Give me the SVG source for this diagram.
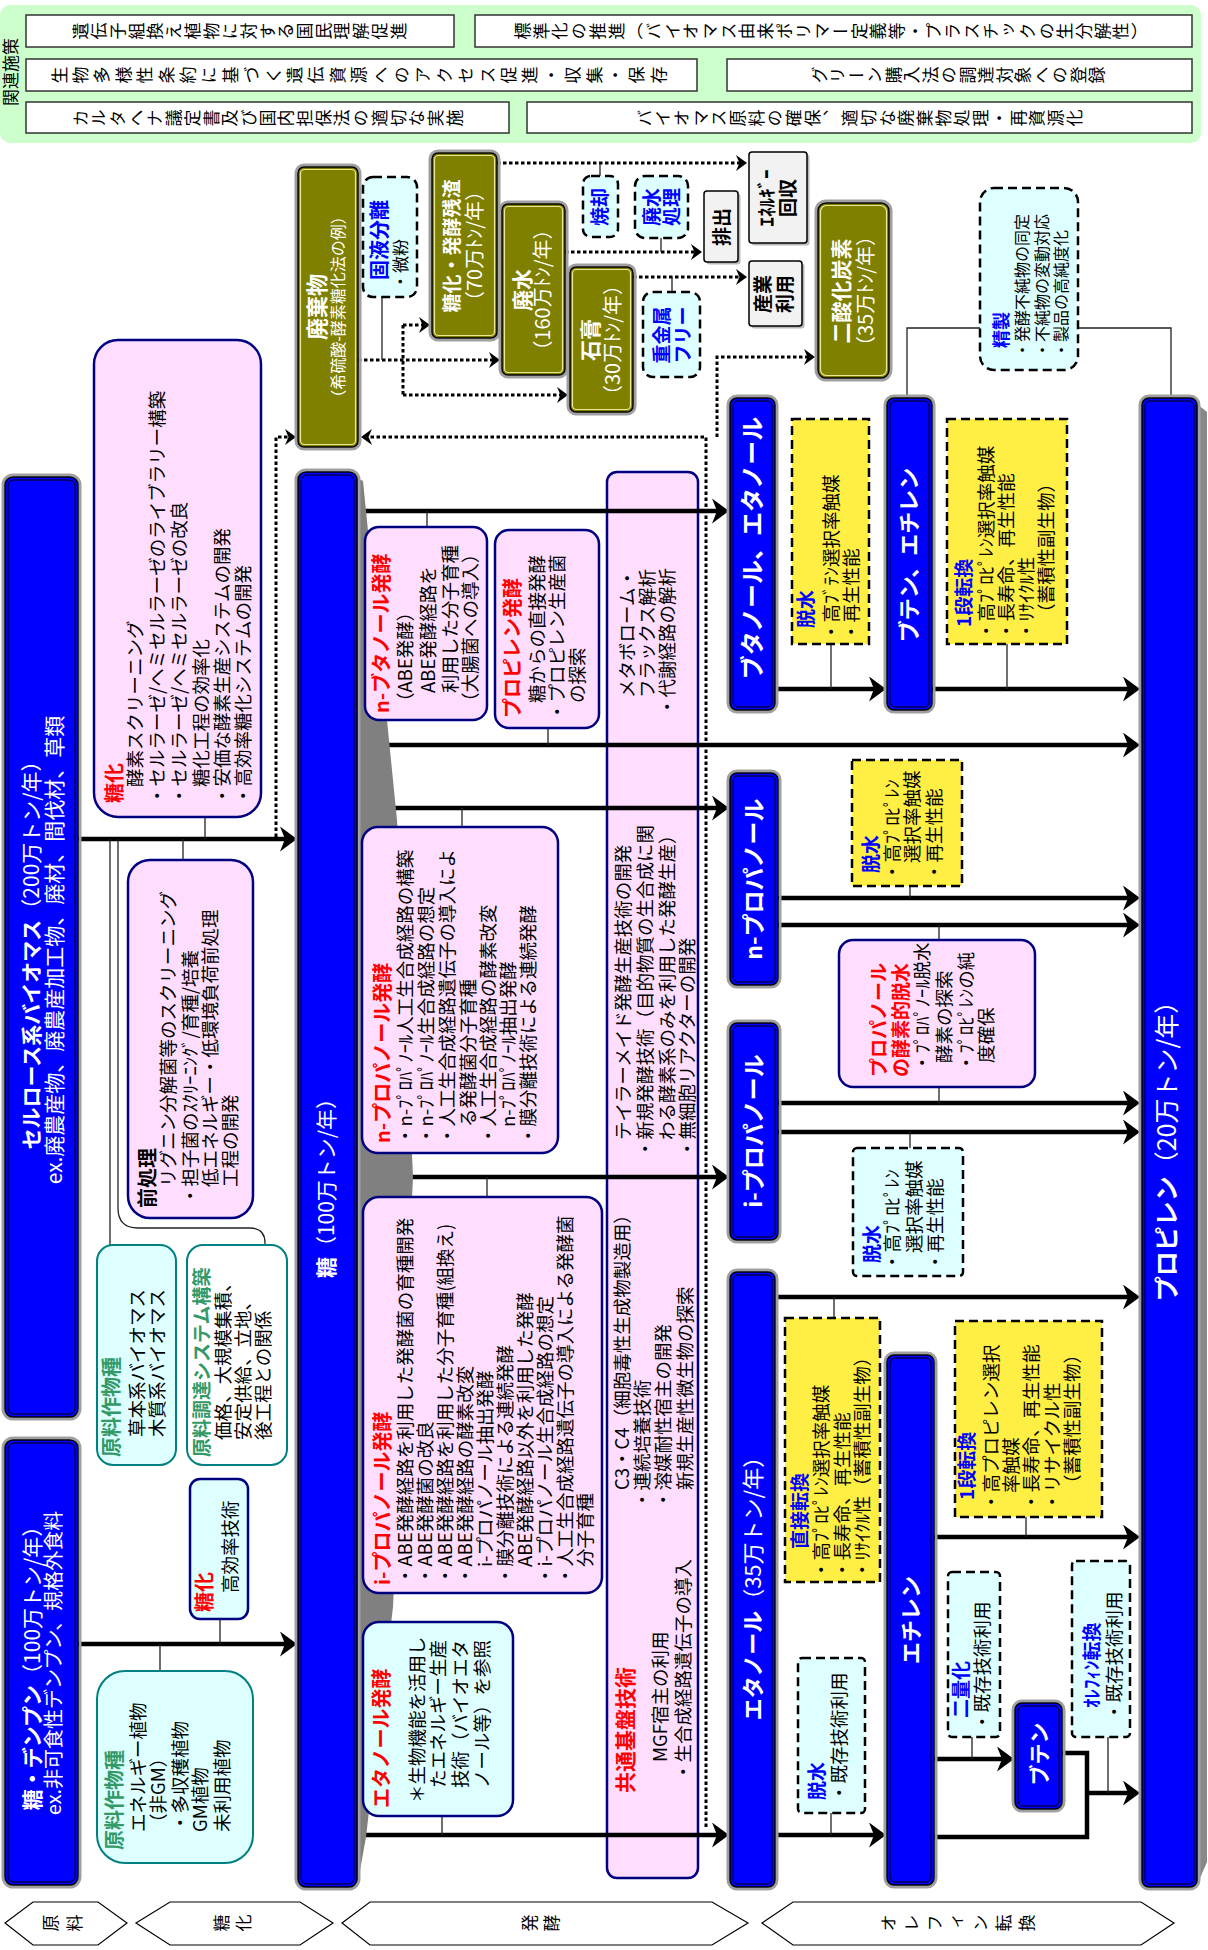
<svg xmlns="http://www.w3.org/2000/svg" width="1208" height="1950" viewBox="0 0 1208 1950">
<style>
text{font-family:"Noto Sans CJK JP","Noto Sans CJK SC",sans-serif;font-size:18.5px;fill:#000}
.b{font-weight:bold}
.w{fill:#fff}
.rd{fill:#f00;font-weight:bold;font-size:20px}
.bu{fill:#00f;font-weight:bold;font-size:19px}
.gn{fill:#339966;font-weight:bold;font-size:20px}
.m{text-anchor:middle}
.v{writing-mode:vertical-rl;text-anchor:middle;font-size:17px}
.halo{fill:none;stroke:#a0a0a0;stroke-width:3}
.blue{fill:#0000ff;stroke:#000;stroke-width:1.5}
.olive{fill:#808000;stroke:#000;stroke-width:1.5}
.inb{fill:none;stroke:#000;stroke-width:1}
.ino{fill:none;stroke:#e8e890;stroke-width:1.2}
.pk{fill:#ffddff;stroke:#000080;stroke-width:2.5}
.ct{fill:#ddffff;stroke:#008080;stroke-width:2}
.wt{fill:#fff;stroke:#008080;stroke-width:2}
.cn{fill:#ddffff;stroke:#000080;stroke-width:2.5}
.cyd{fill:#ddffff;stroke:#000;stroke-width:2.5;stroke-dasharray:9 5}
.yld{fill:#ffee44;stroke:#000;stroke-width:2.5;stroke-dasharray:9 5}
.gy{fill:#f2f2f2;stroke:#000;stroke-width:1.5}
.sh{fill:#b8b8b8}
.chev{fill:#fff;stroke:#000;stroke-width:1.2}
.row{fill:#fff;stroke:#333;stroke-width:1.5}
.thick{fill:none;stroke:#000;stroke-width:4.5}
.dot{fill:none;stroke:#000;stroke-width:3;stroke-dasharray:3.5 2.5}
.thin{fill:none;stroke:#222;stroke-width:1.3}
</style>
<defs>
<marker id="ah" viewBox="0 0 17 25" refX="9" refY="12.5" markerWidth="17" markerHeight="25" markerUnits="userSpaceOnUse" orient="auto"><path d="M0,0 L17,12.5 L0,25 L5,12.5 Z" fill="#000"/></marker>
<marker id="ad" viewBox="0 0 11 16" refX="6" refY="8" markerWidth="11" markerHeight="16" markerUnits="userSpaceOnUse" orient="auto"><path d="M0,0 L11,8 L0,16 L3.5,8 Z" fill="#000"/></marker>
</defs>

<g id="related-policies">
<rect x="0" y="5" width="1201" height="138" rx="10" fill="#ccffcc"/>
<rect class="row" x="26" y="15" width="428" height="32"/>
<rect class="row" x="475" y="15" width="717" height="32"/>
<rect class="row" x="26" y="59" width="671" height="32"/>
<rect class="row" x="727" y="59" width="465" height="32"/>
<rect class="row" x="26" y="102" width="483" height="31"/>
<rect class="row" x="527" y="102" width="665" height="31"/>
<g transform="translate(0 1950) rotate(-90)">
<text class="m" x="1878" y="17" style="font-size:17px">関連施策</text>
<text class="v" x="1919" y="240" letter-spacing="1.7">遺伝子組換え植物に対する国民理解促進</text>
<text class="v" x="1919" y="832" letter-spacing="1.7">標準化の推進（バイオマス由来ポリマー定義等・プラスチックの生分解性）</text>
<text class="v" x="1875" y="361" letter-spacing="4.4">生物多様性条約に基づく遺伝資源へのアクセス促進・収集・保存</text>
<text class="v" x="1875" y="959" letter-spacing="1.5">グリーン購入法の調達対象への登録</text>
<text class="v" x="1832" y="268" letter-spacing="1.7">カルタヘナ議定書及び国内担保法の適切な実施</text>
<text class="v" x="1832" y="860" letter-spacing="1.7">バイオマス原料の確保、適切な廃棄物処理・再資源化</text>
</g>
</g>

<g id="stage-feedstock">
<polygon class="chev" points="5,1923 33,1902 98,1902 127,1923 98,1945 33,1945"/>
<g transform="translate(0 1950) rotate(-90)"><text class="v" x="27" y="66" letter-spacing="7">原料</text></g>
</g>
<g id="stage-saccharification">
<polygon class="chev" points="136,1923 170,1902 300,1902 333,1923 300,1945 170,1945"/>
<g transform="translate(0 1950) rotate(-90)"><text class="v" x="27" y="235" letter-spacing="5">糖化</text></g>
</g>
<g id="stage-fermentation">
<polygon class="chev" points="342,1923 370,1902 712,1902 748,1923 712,1945 370,1945"/>
<g transform="translate(0 1950) rotate(-90)"><text class="v" x="27" y="543" letter-spacing="5">発酵</text></g>
</g>
<g id="stage-olefin">
<polygon class="chev" points="762,1923 793,1902 1141,1902 1174,1923 1141,1945 793,1945"/>
<g transform="translate(0 1950) rotate(-90)"><text class="v" x="27" y="961" letter-spacing="6">オレフィン転換</text></g>
</g>

<g id="common-tech">
<rect class="pk" x="607" y="472" width="91" height="1406" rx="10"/>
<g transform="translate(0 1950) rotate(-90)">
<text class="rd" x="157" y="633" style="font-size:21px">共通基盤技術</text>
<text x="188" y="667">MGF宿主の利用</text>
<text x="169" y="690">・生合成経路遺伝子の導入</text>
<text x="460" y="629">C3・C4（細胞毒性生成物製造用）</text>
<text x="441" y="649">・連続培養技術</text>
<text x="441" y="670">・溶媒耐性宿主の開発</text>
<text x="460" y="692">新規生産性微生物の探索</text>
<text x="810" y="630">テイラーメイド発酵生産技術の開発</text>
<text x="792" y="652">・新規発酵技術（目的物質の生合成に関</text>
<text x="810" y="674">わる酵素系のみを利用した発酵生産）</text>
<text x="792" y="694">・無細胞リアクターの開発</text>
<text x="1252" y="634">メタボローム・</text>
<text x="1252" y="654">フラックス解析</text>
<text x="1234" y="674">・代謝経路の解析</text>
</g>
</g>

<g id="connectors">
<path class="thick" d="M78,839H289" marker-end="url(#ah)"/>
<path class="thick" d="M78,1644H289" marker-end="url(#ah)"/>
<path class="thick" d="M357,511H721" marker-end="url(#ah)"/>
<path class="thick" d="M357,745H1132" marker-end="url(#ah)"/>
<path class="thick" d="M357,808H721" marker-end="url(#ah)"/>
<path class="thick" d="M357,1177H721" marker-end="url(#ah)"/>
<path class="thick" d="M357,1835H721" marker-end="url(#ah)"/>
<path class="thick" d="M776,689H878" marker-end="url(#ah)"/>
<path class="thick" d="M932,689H1132" marker-end="url(#ah)"/>
<path class="thick" d="M778,898H1132" marker-end="url(#ah)"/>
<path class="thick" d="M778,925H1132" marker-end="url(#ah)"/>
<path class="thick" d="M778,1103H1132" marker-end="url(#ah)"/>
<path class="thick" d="M778,1132H1132" marker-end="url(#ah)"/>
<path class="thick" d="M776,1297H1132" marker-end="url(#ah)"/>
<path class="thick" d="M776,1835H878" marker-end="url(#ah)"/>
<path class="thick" d="M934,1537H1132" marker-end="url(#ah)"/>
<path class="thick" d="M934,1759H1006" marker-end="url(#ah)"/>
<path class="thick" d="M1062,1753H1087V1837H934"/>
<path class="thick" d="M1087,1793H1132" marker-end="url(#ah)"/>

<path class="dot" d="M276,837V437H291" marker-end="url(#ad)"/>
<path class="dot" d="M358,360H495" marker-end="url(#ad)"/>
<path class="dot" d="M403,325V395"/>
<path class="dot" d="M403,325H425" marker-end="url(#ad)"/>
<path class="dot" d="M403,395H563" marker-end="url(#ad)"/>
<path class="dot" d="M497,163H742" marker-end="url(#ad)"/>
<path class="dot" d="M565,252H697" marker-end="url(#ad)"/>
<path class="dot" d="M633,277H742" marker-end="url(#ad)"/>
<path class="dot" d="M706,1827V437H366" marker-end="url(#ad)"/>
<path class="dot" d="M717,437V357H810" marker-end="url(#ad)"/>

<path class="thin" d="M205,817V839M183,860V839M110,839V1245M118,839V1208Q118,1228 138,1228H250Q265,1228 265,1243V1245M220,1619V1644M160,1671V1644M427,527V511M548,728V745M462,827V808M487,1197V1177M442,1816V1835M831,644V689M1007,644V689M910,886V898M939,940V925M939,1087V1103M910,1148V1132M834,1318V1297M831,1813V1835M1026,1517V1537M972,1737V1759M1108,1737V1793M980,328H907V398M1078,328H1171V398M382,297V360M600,176V163M661,238V252M672,292V277"/>
</g>

<g id="cellulose">
<rect class="halo" x="3" y="475" width="77" height="944" rx="10"/>
<rect class="blue" x="5" y="477" width="73" height="940" rx="8"/>
<rect class="inb" x="8" y="480" width="67" height="934" rx="6"/>
<g transform="translate(0 1950) rotate(-90)">
<text class="w m" x="1000" y="39" style="font-size:21px"><tspan class="b">セルロース系バイオマス</tspan>（200万トン/年）</text>
<text class="w m" x="1000" y="62" style="font-size:21px">ex.廃農産物、廃農産加工物、廃材、間伐材、草類</text>
</g>
</g>

<g id="starch">
<rect class="halo" x="3" y="1438" width="77" height="449" rx="10"/>
<rect class="blue" x="5" y="1440" width="73" height="445" rx="8"/>
<rect class="inb" x="8" y="1443" width="67" height="439" rx="6"/>
<g transform="translate(0 1950) rotate(-90)">
<text class="w m" x="287" y="40" style="font-size:21px"><tspan class="b">糖・デンプン</tspan>（100万トン/年）</text>
<text class="w m" x="287" y="61" style="font-size:20px">ex.非可食性デンプン、規格外食料</text>
</g>
</g>

<g id="sugar">
<polygon points="357,478 363,481 397,820 413,1177 393,1607 366,1837 357,1887" fill="#808080"/>
<rect class="halo" x="296" y="470" width="63" height="1419" rx="10"/>
<rect class="blue" x="298" y="472" width="59" height="1415" rx="8"/>
<rect class="inb" x="301" y="475" width="53" height="1409" rx="6"/>
<g transform="translate(0 1950) rotate(-90)">
<text class="w m" x="767" y="334" style="font-size:21px"><tspan class="b">糖</tspan>（100万トン/年）</text>
</g>
</g>

<g id="waste">
<rect class="halo" x="296" y="165" width="64" height="284" rx="8"/>
<rect class="olive" x="298" y="167" width="60" height="280" rx="6"/>
<rect class="ino" x="300.5" y="169.5" width="55" height="275" rx="4"/>
<g transform="translate(0 1950) rotate(-90)">
<text class="w m b" x="1643" y="325" style="font-size:22px">廃棄物</text>
<text class="w m" x="1643" y="344" style="font-size:16px">（希硫酸-酵素糖化法の例）</text>
</g>
</g>

<g id="residue">
<rect class="halo" x="430" y="151" width="69" height="189" rx="8"/>
<rect class="olive" x="432" y="153" width="65" height="185" rx="6"/>
<rect class="ino" x="434.5" y="155.5" width="60" height="180" rx="4"/>
<g transform="translate(0 1950) rotate(-90)">
<text class="w m b" x="1704" y="459" style="font-size:19px">糖化・発酵残渣</text>
<text class="w m" x="1704" y="482" style="font-size:20px">（70万ﾄﾝ/年）</text>
</g>
</g>

<g id="wastewater">
<rect class="halo" x="500" y="202" width="67" height="175" rx="8"/>
<rect class="olive" x="502" y="204" width="63" height="171" rx="6"/>
<rect class="ino" x="504.5" y="206.5" width="58" height="166" rx="4"/>
<g transform="translate(0 1950) rotate(-90)">
<text class="w m b" x="1660" y="530" style="font-size:21px">廃水</text>
<text class="w m" x="1660" y="550" style="font-size:20px">（160万ﾄﾝ/年）</text>
</g>
</g>

<g id="gypsum">
<rect class="halo" x="568" y="265" width="67" height="149" rx="8"/>
<rect class="olive" x="570" y="267" width="63" height="145" rx="6"/>
<rect class="ino" x="572.5" y="269.5" width="58" height="140" rx="4"/>
<g transform="translate(0 1950) rotate(-90)">
<text class="w m b" x="1610" y="598" style="font-size:21px">石膏</text>
<text class="w m" x="1610" y="620" style="font-size:20px">（30万ﾄﾝ/年）</text>
</g>
</g>

<g id="co2">
<rect class="halo" x="816" y="201" width="75" height="179" rx="10"/>
<rect class="olive" x="818" y="203" width="71" height="175" rx="8"/>
<rect class="ino" x="820.5" y="205.5" width="66" height="170" rx="6"/>
<g transform="translate(0 1950) rotate(-90)">
<text class="w m b" x="1659" y="849" style="font-size:21px">二酸化炭素</text>
<text class="w m" x="1659" y="873" style="font-size:20px">（35万ﾄﾝ/年）</text>
</g>
</g>

<g id="solid-liquid">
<rect class="cyd" x="363" y="177" width="54" height="120" rx="10"/>
<g transform="translate(0 1950) rotate(-90)">
<text class="bu" x="1670" y="387" style="font-size:20px">固液分離</text>
<text x="1660" y="407" style="font-size:17px">・微粉</text>
</g>
</g>

<g id="incineration">
<rect class="cyd" x="583" y="176" width="35" height="61" rx="8"/>
<g transform="translate(0 1950) rotate(-90)"><text class="bu m" x="1743" y="607">焼却</text></g>
</g>

<g id="wastewater-treatment">
<rect class="cyd" x="635" y="176" width="53" height="62" rx="10"/>
<g transform="translate(0 1950) rotate(-90)">
<text class="bu m" x="1743" y="659">廃水</text>
<text class="bu m" x="1743" y="679">処理</text>
</g>
</g>

<g id="heavy-metal-free">
<rect class="cyd" x="643" y="292" width="57" height="85" rx="10"/>
<g transform="translate(0 1950) rotate(-90)">
<text class="bu m" x="1615" y="669">重金属</text>
<text class="bu m" x="1615" y="690">フリー</text>
</g>
</g>

<g id="emission">
<rect class="sh" x="706.5" y="193.5" width="34" height="71" rx="3"/>
<rect class="gy" x="704" y="191" width="34" height="71" rx="3"/>
<g transform="translate(0 1950) rotate(-90)"><text class="b m" x="1723" y="729" style="font-size:19px">排出</text></g>
</g>

<g id="energy-recovery">
<rect class="sh" x="751.5" y="154.5" width="58" height="91" rx="3"/>
<rect class="gy" x="749" y="152" width="58" height="91" rx="3"/>
<g transform="translate(0 1950) rotate(-90)">
<text class="b m" x="1752" y="774" style="font-size:19px">ｴﾈﾙｷﾞｰ</text>
<text class="b m" x="1752" y="795" style="font-size:19px">回収</text>
</g>
</g>

<g id="industrial-use">
<rect class="sh" x="751.5" y="263.5" width="53" height="65" rx="3"/>
<rect class="gy" x="749" y="261" width="53" height="65" rx="3"/>
<g transform="translate(0 1950) rotate(-90)">
<text class="b m" x="1656" y="770" style="font-size:19px">産業</text>
<text class="b m" x="1656" y="792" style="font-size:19px">利用</text>
</g>
</g>

<g id="purification">
<rect class="cyd" x="980" y="188" width="98" height="182" rx="14"/>
<g transform="translate(0 1950) rotate(-90)">
<text class="bu" x="1602" y="1008" style="font-size:18px">精製</text>
<text x="1592" y="1028" style="font-size:16px">・発酵不純物の同定</text>
<text x="1592" y="1048" style="font-size:16px">・不純物の変動対応</text>
<text x="1592" y="1067" style="font-size:16px">・製品の高純度化</text>
</g>
</g>

<g id="saccharification">
<rect class="pk" x="94" y="340" width="167" height="477" rx="24"/>
<g transform="translate(0 1950) rotate(-90)">
<text class="rd" x="1147" y="122">糖化</text>
<text x="1163" y="142">酵素スクリーニング</text>
<text x="1145" y="164">・セルラーゼ/ヘミセルラーゼのライブラリー構築</text>
<text x="1145" y="186">・セルラーゼ/ヘミセルラーゼの改良</text>
<text x="1163" y="208">糖化工程の効率化</text>
<text x="1145" y="229">・安価な酵素生産システムの開発</text>
<text x="1145" y="250">・高効率糖化システムの開発</text>
</g>
</g>

<g id="pretreatment">
<rect class="pk" x="128" y="860" width="125" height="358" rx="22"/>
<g transform="translate(0 1950) rotate(-90)">
<text class="b" x="742" y="155" style="font-size:20px">前処理</text>
<text x="763" y="175">リグニン分解菌等のスクリーニング</text>
<text x="745" y="197">・担子菌のｽｸﾘｰﾆﾝｸﾞ/育種/培養</text>
<text x="763" y="217">低エネルギー・低環境負荷前処理</text>
<text x="763" y="237">工程の開発</text>
</g>
</g>

<g id="feedstock-crops-cellulose">
<rect class="ct" x="97" y="1245" width="79" height="220" rx="16"/>
<g transform="translate(0 1950) rotate(-90)">
<text class="gn" x="493" y="119">原料作物種</text>
<text x="513" y="144">草本系バイオマス</text>
<text x="513" y="164">木質系バイオマス</text>
</g>
</g>

<g id="procurement-system">
<rect class="wt" x="187" y="1245" width="100" height="220" rx="16"/>
<g transform="translate(0 1950) rotate(-90)">
<text class="gn" x="493" y="209" style="font-size:19px">原料調達システム構築</text>
<text x="510" y="230">価格、大規模集積、</text>
<text x="510" y="250">安定供給、立地、</text>
<text x="510" y="270">後工程との関係</text>
</g>
</g>

<g id="saccharification-starch">
<rect class="cn" x="190" y="1479" width="58" height="140" rx="10"/>
<g transform="translate(0 1950) rotate(-90)">
<text class="rd" x="338" y="212">糖化</text>
<text x="357" y="237">高効率技術</text>
</g>
</g>

<g id="feedstock-crops-starch">
<rect class="ct" x="97" y="1671" width="156" height="192" rx="28"/>
<g transform="translate(0 1950) rotate(-90)">
<text class="gn" x="100" y="122">原料作物種</text>
<text x="118" y="145">エネルギー植物</text>
<text x="118" y="165">（非GM）</text>
<text x="118" y="187">・多収穫植物</text>
<text x="118" y="207">GM植物</text>
<text x="118" y="229">未利用植物</text>
</g>
</g>

<g id="n-butanol-fermentation">
<rect class="pk" x="365" y="527" width="122" height="193" rx="14"/>
<g transform="translate(0 1950) rotate(-90)">
<text class="rd" x="1237" y="389">n-ブタノール発酵</text>
<text x="1239" y="412">（ABE発酵）</text>
<text x="1257" y="435">ABE発酵経路を</text>
<text x="1257" y="457">利用した分子育種</text>
<text x="1239" y="477">（大腸菌への導入）</text>
</g>
</g>

<g id="propylene-fermentation">
<rect class="pk" x="495" y="530" width="104" height="198" rx="14"/>
<g transform="translate(0 1950) rotate(-90)">
<text class="rd" x="1232" y="520">プロピレン発酵</text>
<text x="1247" y="544">糖からの直接発酵</text>
<text x="1229" y="564">・プロピレン生産菌</text>
<text x="1247" y="584">の探索</text>
</g>
</g>

<g id="n-propanol-fermentation">
<rect class="pk" x="362" y="827" width="196" height="326" rx="16"/>
<g transform="translate(0 1950) rotate(-90)">
<text class="rd" x="807" y="390">n-プロパノール発酵</text>
<text x="805" y="412">・n-ﾌﾟﾛﾊﾟﾉｰﾙ人工生合成経路の構築</text>
<text x="805" y="433">・n-ﾌﾟﾛﾊﾟﾉｰﾙ生合成経路の想定</text>
<text x="805" y="454">・人工生合成経路遺伝子の導入によ</text>
<text x="823" y="475">る発酵菌分子育種</text>
<text x="805" y="495">・人工生合成経路の酵素改変</text>
<text x="823" y="515">n-ﾌﾟﾛﾊﾟﾉｰﾙ抽出発酵</text>
<text x="805" y="535">・膜分離技術による連続発酵</text>
</g>
</g>

<g id="i-propanol-fermentation">
<rect class="pk" x="363" y="1197" width="239" height="396" rx="16"/>
<g transform="translate(0 1950) rotate(-90)">
<text class="rd" x="365" y="390">i-プロパノール発酵</text>
<text x="365" y="412">・ABE発酵経路を利用した発酵菌の育種開発</text>
<text x="365" y="432">・ABE発酵菌の改良</text>
<text x="365" y="452">・ABE発酵経路を利用した分子育種(組換え)</text>
<text x="365" y="472">・ABE発酵経路の酵素改変</text>
<text x="383" y="492">i-プロパノール抽出発酵</text>
<text x="365" y="512">・膜分離技術による連続発酵</text>
<text x="383" y="532">ABE発酵経路以外を利用した発酵</text>
<text x="365" y="552">・i-プロパノール生合成経路の想定</text>
<text x="365" y="572">・人工生合成経路遺伝子の導入による発酵菌</text>
<text x="383" y="592">分子育種</text>
</g>
</g>

<g id="ethanol-fermentation">
<rect class="cn" x="363" y="1622" width="150" height="194" rx="16"/>
<g transform="translate(0 1950) rotate(-90)">
<text class="rd" x="142" y="389">エタノール発酵</text>
<text x="147" y="424">＊生物機能を活用し</text>
<text x="162" y="445">たエネルギー生産</text>
<text x="162" y="467">技術（バイオエタ</text>
<text x="162" y="489">ノール等）を参照</text>
</g>
</g>

<g id="butanol-ethanol">
<rect class="halo" x="728" y="396" width="49" height="316" rx="9"/>
<rect class="blue" x="730" y="398" width="45" height="312" rx="7"/>
<rect class="inb" x="733" y="401" width="39" height="306" rx="5"/>
<g transform="translate(0 1950) rotate(-90)"><text class="w b m" x="1402" y="761" style="font-size:24px">ブタノール、エタノール</text></g>
</g>

<g id="n-propanol">
<rect class="halo" x="728" y="771" width="52" height="216" rx="9"/>
<rect class="blue" x="730" y="773" width="48" height="212" rx="7"/>
<rect class="inb" x="733" y="776" width="42" height="206" rx="5"/>
<g transform="translate(0 1950) rotate(-90)"><text class="w b m" x="1071" y="762" style="font-size:23px">n-プロパノール</text></g>
</g>

<g id="i-propanol">
<rect class="halo" x="728" y="1021" width="52" height="221" rx="9"/>
<rect class="blue" x="730" y="1023" width="48" height="217" rx="7"/>
<rect class="inb" x="733" y="1026" width="42" height="211" rx="5"/>
<g transform="translate(0 1950) rotate(-90)"><text class="w b m" x="819" y="762" style="font-size:23px">i-プロパノール</text></g>
</g>

<g id="ethanol">
<rect class="halo" x="728" y="1270" width="49" height="619" rx="9"/>
<rect class="blue" x="730" y="1272" width="45" height="615" rx="7"/>
<rect class="inb" x="733" y="1275" width="39" height="609" rx="5"/>
<g transform="translate(0 1950) rotate(-90)"><text class="w m" x="367" y="761" style="font-size:22px"><tspan class="b">エタノール</tspan>（35万トン/年）</text></g>
</g>

<g id="butene-ethylene">
<rect class="halo" x="885" y="396" width="49" height="316" rx="9"/>
<rect class="blue" x="887" y="398" width="45" height="312" rx="7"/>
<rect class="inb" x="890" y="401" width="39" height="306" rx="5"/>
<g transform="translate(0 1950) rotate(-90)"><text class="w b m" x="1395" y="917" style="font-size:22px">ブテン、エチレン</text></g>
</g>

<g id="ethylene">
<rect class="halo" x="885" y="1353" width="51" height="534" rx="9"/>
<rect class="blue" x="887" y="1355" width="47" height="530" rx="7"/>
<rect class="inb" x="890" y="1358" width="41" height="524" rx="5"/>
<g transform="translate(0 1950) rotate(-90)"><text class="w b m" x="330" y="919" style="font-size:22px">エチレン</text></g>
</g>

<g id="butene">
<rect class="halo" x="1013" y="1701" width="51" height="110" rx="9"/>
<rect class="blue" x="1015" y="1703" width="47" height="106" rx="7"/>
<rect class="inb" x="1018" y="1706" width="41" height="100" rx="5"/>
<g transform="translate(0 1950) rotate(-90)"><text class="w b m" x="196" y="1047" style="font-size:21px">ブテン</text></g>
</g>

<g id="propylene">
<polygon points="1197,404 1207,412 1207,1862 1197,1885" fill="#888"/>
<rect class="halo" x="1140" y="396" width="59" height="1493" rx="9"/>
<rect class="blue" x="1142" y="398" width="55" height="1489" rx="7"/>
<rect class="inb" x="1145" y="401" width="49" height="1483" rx="5"/>
<g transform="translate(0 1950) rotate(-90)"><text class="w m" x="805" y="1176" style="font-size:25px"><tspan class="b">プロピレン</tspan>（20万トン/年）</text></g>
</g>

<g id="dehydration-butanol">
<rect class="yld" x="792" y="419" width="77" height="225"/>
<g transform="translate(0 1950) rotate(-90)">
<text class="bu" x="1322" y="813">脱水</text>
<text x="1309" y="838">・高ﾌﾞﾃﾝ選択率触媒</text>
<text x="1309" y="858">・再生性能</text>
</g>
</g>

<g id="one-step-butene">
<rect class="yld" x="947" y="419" width="120" height="225"/>
<g transform="translate(0 1950) rotate(-90)">
<text class="bu" x="1323" y="971">1段転換</text>
<text x="1310" y="993">・高ﾌﾟﾛﾋﾟﾚﾝ選択率触媒</text>
<text x="1310" y="1013">・長寿命、再生性能</text>
<text x="1310" y="1033">・ﾘｻｲｸﾙ性</text>
<text x="1328" y="1053">（蓄積性副生物）</text>
</g>
</g>

<g id="dehydration-n-propanol">
<rect class="yld" x="852" y="760" width="110" height="126"/>
<g transform="translate(0 1950) rotate(-90)">
<text class="bu" x="1077" y="878">脱水</text>
<text x="1069" y="899">・高ﾌﾟﾛﾋﾟﾚﾝ</text>
<text x="1087" y="919">選択率触媒</text>
<text x="1069" y="941">・再生性能</text>
</g>
</g>

<g id="enzymatic-dehydration">
<rect class="pk" x="839" y="940" width="196" height="147" rx="14"/>
<g transform="translate(0 1950) rotate(-90)">
<text class="rd" x="873" y="886" style="font-size:19px">プロパノール</text>
<text class="rd" x="873" y="908" style="font-size:19px">の酵素的脱水</text>
<text x="878" y="929">・ﾌﾟﾛﾊﾟﾉｰﾙ脱水</text>
<text x="887" y="951">酵素の探索</text>
<text x="878" y="973">・ﾌﾟﾛﾋﾟﾚﾝの純</text>
<text x="887" y="993">度確保</text>
</g>
</g>

<g id="dehydration-i-propanol">
<rect class="cyd" x="853" y="1148" width="110" height="128" rx="4"/>
<g transform="translate(0 1950) rotate(-90)">
<text class="bu" x="687" y="879">脱水</text>
<text x="679" y="899">・高ﾌﾟﾛﾋﾟﾚﾝ</text>
<text x="697" y="921">選択率触媒</text>
<text x="679" y="942">・再生性能</text>
</g>
</g>

<g id="direct-conversion">
<rect class="yld" x="785" y="1318" width="95" height="264"/>
<g transform="translate(0 1950) rotate(-90)">
<text class="bu" x="401" y="807">直接転換</text>
<text x="371" y="828">・高ﾌﾟﾛﾋﾟﾚﾝ選択率触媒</text>
<text x="371" y="849">・長寿命、再生性能</text>
<text x="371" y="869">・ﾘｻｲｸﾙ性（蓄積性副生物）</text>
</g>
</g>

<g id="one-step-ethylene">
<rect class="yld" x="955" y="1321" width="147" height="196"/>
<g transform="translate(0 1950) rotate(-90)">
<text class="bu" x="450" y="974">1段転換</text>
<text x="439" y="998">・高プロピレン選択</text>
<text x="457" y="1018">率触媒</text>
<text x="439" y="1038">・長寿命、再生性能</text>
<text x="439" y="1059">・リサイクル性</text>
<text x="457" y="1079">（蓄積性副生物）</text>
</g>
</g>

<g id="dehydration-ethanol">
<rect class="cyd" x="798" y="1658" width="67" height="155" rx="4"/>
<g transform="translate(0 1950) rotate(-90)">
<text class="bu" x="150" y="824">脱水</text>
<text x="148" y="846">・既存技術利用</text>
</g>
</g>

<g id="dimerization">
<rect class="cyd" x="948" y="1572" width="52" height="165" rx="4"/>
<g transform="translate(0 1950) rotate(-90)">
<text class="bu" x="232" y="968">二量化</text>
<text x="219" y="989">・既存技術利用</text>
</g>
</g>

<g id="metathesis">
<rect class="cyd" x="1072" y="1561" width="58" height="176" rx="4"/>
<g transform="translate(0 1950) rotate(-90)">
<text class="bu" x="242" y="1099">ｵﾚﾌｨﾝ転換</text>
<text x="229" y="1121">・既存技術利用</text>
</g>
</g>
</svg>
